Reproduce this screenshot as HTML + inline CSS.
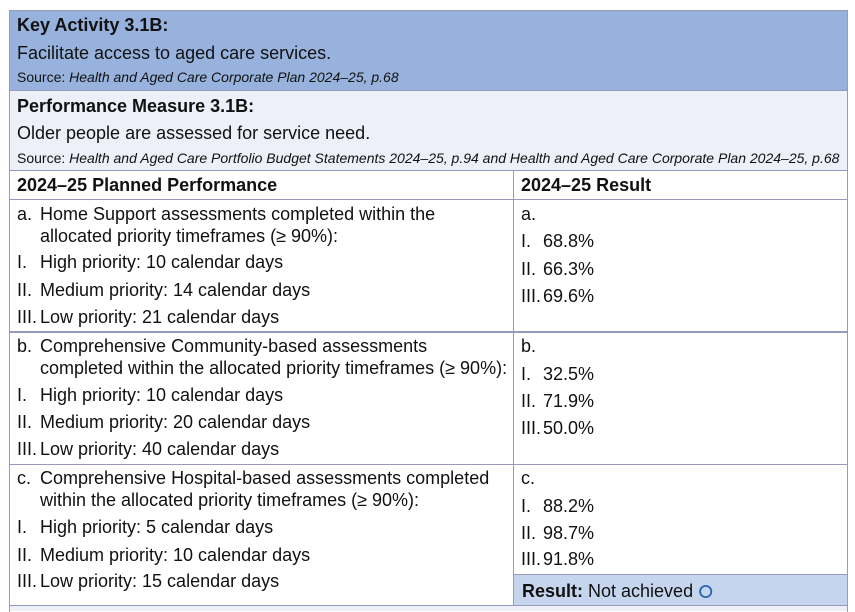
<!DOCTYPE html>
<html>
<head>
<meta charset="utf-8">
<style>
  html, body { margin:0; padding:0; background:#ffffff; }
  body { width:855px; height:611px; position:relative; overflow:hidden;
         font-family:"Liberation Sans", Arial, Helvetica, sans-serif; color:#111; }
  .bg { position:absolute; }
  .h { position:absolute; height:1.5px; background:#979abd; }
  .v { position:absolute; width:1.5px; background:#979abd; }
  .t { position:absolute; font-size:18px; line-height:20px; white-space:nowrap; }
  .b { font-weight:bold; }
  .s { position:absolute; font-size:14px; line-height:16px; white-space:nowrap; }
  .s i { font-style:italic; }
</style>
</head>
<body>
<!-- backgrounds -->
<div class="bg" style="left:9px;top:10px;width:838px;height:80px;background:#97b3dd;"></div>
<div class="bg" style="left:9px;top:90px;width:838px;height:80px;background:#edf0f9;"></div>
<div class="bg" style="left:513px;top:574px;width:334px;height:31px;background:#c6d5ee;"></div>
<div class="bg" style="left:9px;top:605px;width:838px;height:6px;background:#edf0f9;"></div>

<!-- horizontal lines -->
<div class="h" style="left:9px;top:9.5px;width:839px;"></div>
<div class="h" style="left:9px;top:89.5px;width:839px;"></div>
<div class="h" style="left:9px;top:169.5px;width:839px;"></div>
<div class="h" style="left:9px;top:198.5px;width:839px;"></div>
<div class="h" style="left:9px;top:331px;width:839px;"></div>
<div class="h" style="left:9px;top:463.5px;width:839px;"></div>
<div class="h" style="left:513px;top:573.5px;width:335px;"></div>
<div class="h" style="left:9px;top:604.5px;width:839px;"></div>

<!-- vertical lines -->
<div class="v" style="left:8.5px;top:9.5px;height:602px;"></div>
<div class="v" style="left:846.5px;top:9.5px;height:602px;"></div>
<div class="v" style="left:512.5px;top:170px;height:435px;"></div>

<!-- Key activity -->
<div class="t b" style="left:17px;top:14.8px;">Key Activity 3.1B:</div>
<div class="t" style="left:17px;top:43.1px;">Facilitate access to aged care services.</div>
<div class="s" style="left:17px;top:69.2px;">Source: <i>Health and Aged Care Corporate Plan 2024–25, p.68</i></div>

<!-- Performance measure -->
<div class="t b" style="left:17px;top:95.5px;">Performance Measure 3.1B:</div>
<div class="t" style="left:17px;top:123.1px;">Older people are assessed for service need.</div>
<div class="s" style="left:17px;top:150.2px;">Source: <i>Health and Aged Care Portfolio Budget Statements 2024–25, p.94 and Health and Aged Care Corporate Plan 2024–25, p.68</i></div>

<!-- Header -->
<div class="t b" style="left:17px;top:174.5px;">2024–25 Planned Performance</div>
<div class="t b" style="left:521px;top:174.5px;">2024–25 Result</div>

<!-- Row a left -->
<div class="t" style="left:17px;top:204.4px;">a.</div>
<div class="t" style="left:40px;top:204.4px;">Home Support assessments completed within the</div>
<div class="t" style="left:40px;top:225.5px;">allocated priority timeframes (≥ 90%):</div>
<div class="t" style="left:17px;top:252.1px;">I.</div>
<div class="t" style="left:40px;top:252.1px;">High priority: 10 calendar days</div>
<div class="t" style="left:17px;top:279.8px;">II.</div>
<div class="t" style="left:40px;top:279.8px;">Medium priority: 14 calendar days</div>
<div class="t" style="left:17px;top:306.5px;">III.</div>
<div class="t" style="left:40px;top:306.5px;">Low priority: 21 calendar days</div>

<!-- Row a right -->
<div class="t" style="left:521px;top:204px;">a.</div>
<div class="t" style="left:521px;top:231.1px;">I.</div>
<div class="t" style="left:543px;top:231.1px;">68.8%</div>
<div class="t" style="left:521px;top:258.8px;">II.</div>
<div class="t" style="left:543px;top:258.8px;">66.3%</div>
<div class="t" style="left:521px;top:285.5px;">III.</div>
<div class="t" style="left:543px;top:285.5px;">69.6%</div>

<!-- Row b left -->
<div class="t" style="left:17px;top:336.3px;">b.</div>
<div class="t" style="left:40px;top:336.3px;">Comprehensive Community-based assessments</div>
<div class="t" style="left:40px;top:358.1px;">completed within the allocated priority timeframes (≥ 90%):</div>
<div class="t" style="left:17px;top:384.8px;">I.</div>
<div class="t" style="left:40px;top:384.8px;">High priority: 10 calendar days</div>
<div class="t" style="left:17px;top:412.1px;">II.</div>
<div class="t" style="left:40px;top:412.1px;">Medium priority: 20 calendar days</div>
<div class="t" style="left:17px;top:439.1px;">III.</div>
<div class="t" style="left:40px;top:439.1px;">Low priority: 40 calendar days</div>

<!-- Row b right -->
<div class="t" style="left:521px;top:336.1px;">b.</div>
<div class="t" style="left:521px;top:363.8px;">I.</div>
<div class="t" style="left:543px;top:363.8px;">32.5%</div>
<div class="t" style="left:521px;top:391.1px;">II.</div>
<div class="t" style="left:543px;top:391.1px;">71.9%</div>
<div class="t" style="left:521px;top:417.8px;">III.</div>
<div class="t" style="left:543px;top:417.8px;">50.0%</div>

<!-- Row c left -->
<div class="t" style="left:17px;top:468.1px;">c.</div>
<div class="t" style="left:40px;top:468.1px;">Comprehensive Hospital-based assessments completed</div>
<div class="t" style="left:40px;top:489.8px;">within the allocated priority timeframes (≥ 90%):</div>
<div class="t" style="left:17px;top:517.1px;">I.</div>
<div class="t" style="left:40px;top:517.1px;">High priority: 5 calendar days</div>
<div class="t" style="left:17px;top:544.8px;">II.</div>
<div class="t" style="left:40px;top:544.8px;">Medium priority: 10 calendar days</div>
<div class="t" style="left:17px;top:571.1px;">III.</div>
<div class="t" style="left:40px;top:571.1px;">Low priority: 15 calendar days</div>

<!-- Row c right -->
<div class="t" style="left:521px;top:468.1px;">c.</div>
<div class="t" style="left:521px;top:496.1px;">I.</div>
<div class="t" style="left:543px;top:496.1px;">88.2%</div>
<div class="t" style="left:521px;top:523.1px;">II.</div>
<div class="t" style="left:543px;top:523.1px;">98.7%</div>
<div class="t" style="left:521px;top:548.8px;">III.</div>
<div class="t" style="left:543px;top:548.8px;">91.8%</div>

<!-- Result -->
<div class="t" style="left:522px;top:581.1px;"><b>Result:</b> Not achieved</div>
<svg style="position:absolute;left:695px;top:580px;" width="22" height="22" viewBox="0 0 22 22">
  <circle cx="10.7" cy="11.5" r="5.6" fill="none" stroke="#2b62b3" stroke-width="1.8"/>
</svg>
</body>
</html>
